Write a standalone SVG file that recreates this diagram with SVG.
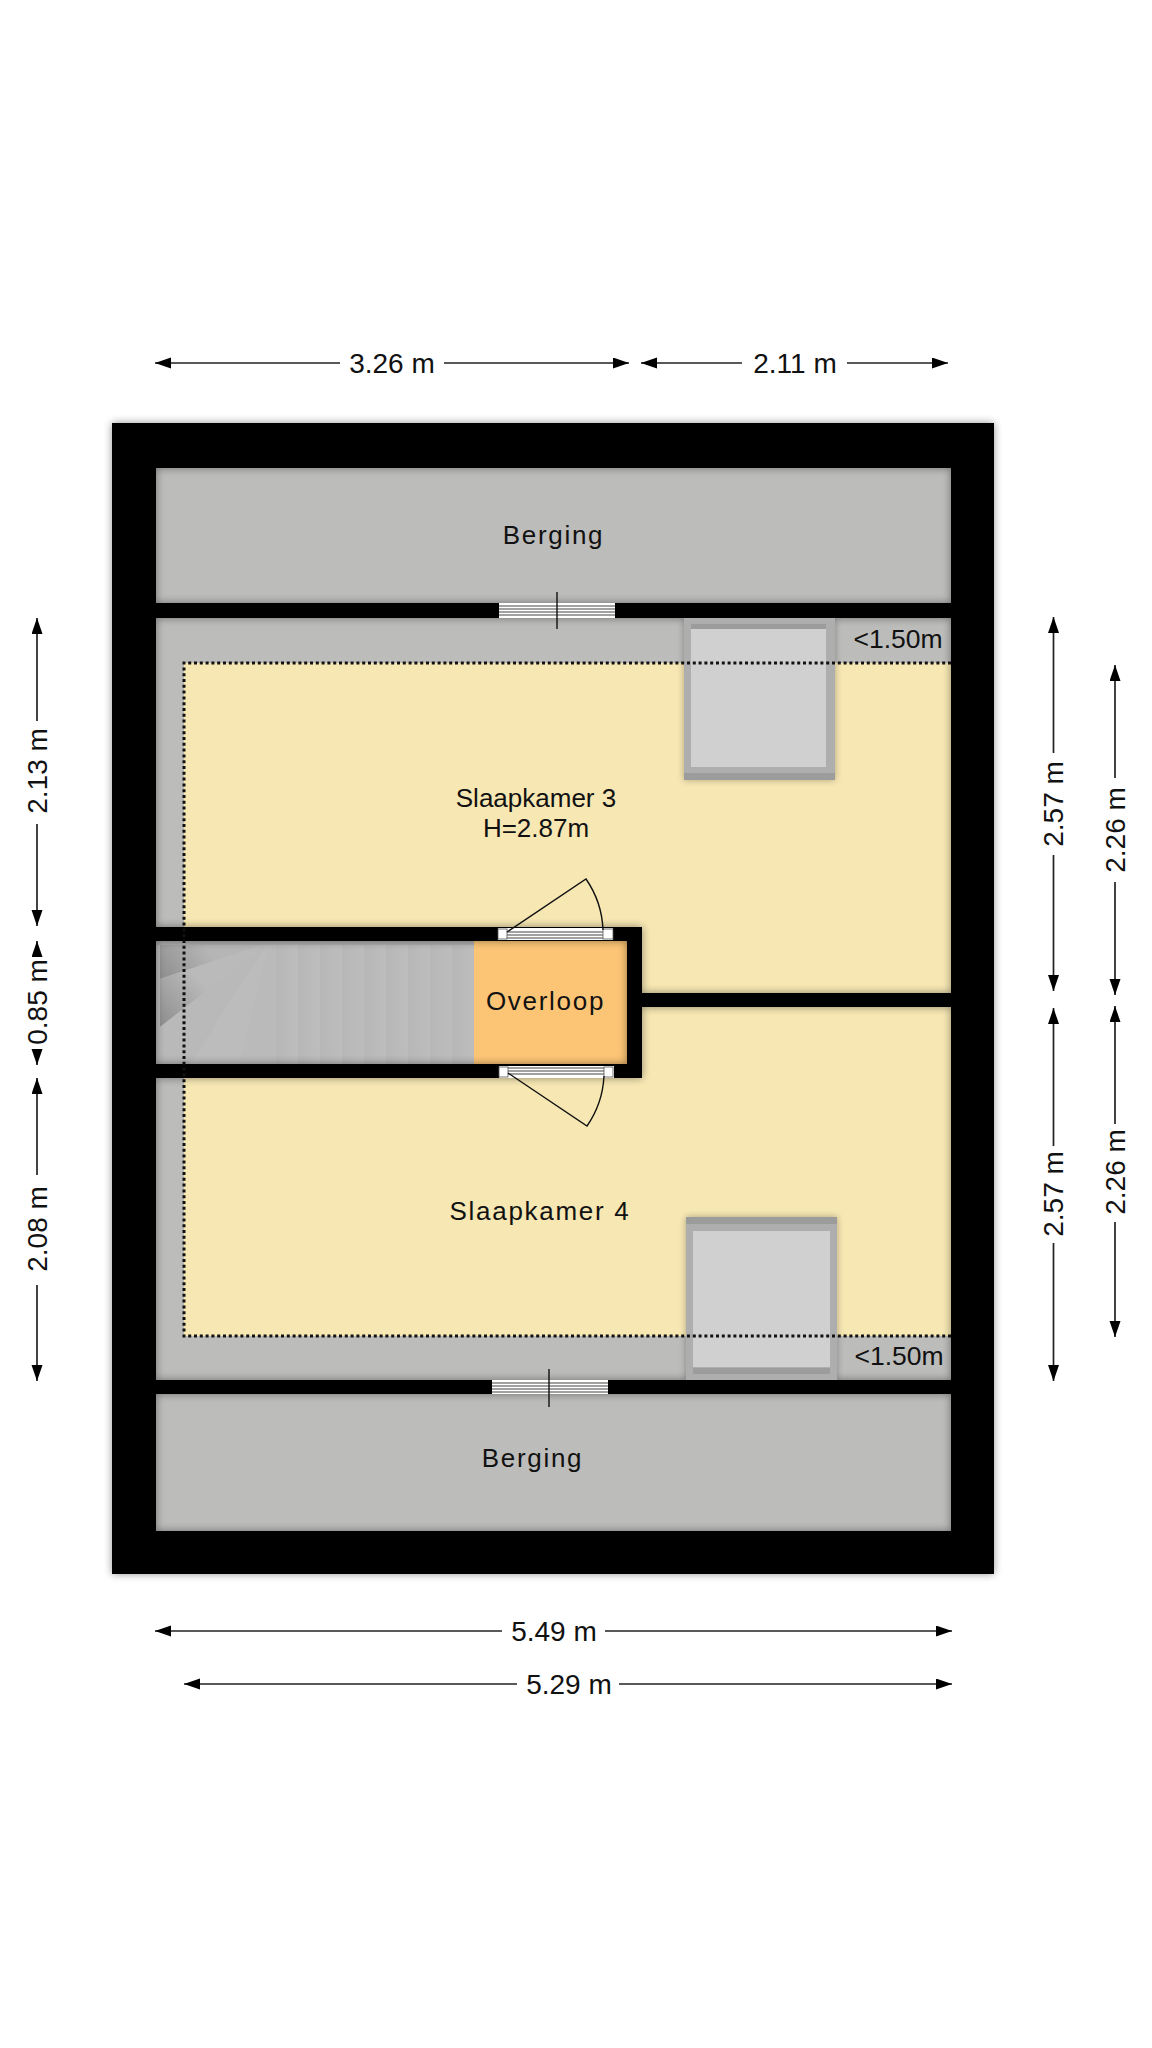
<svg xmlns="http://www.w3.org/2000/svg" width="1152" height="2048" viewBox="0 0 1152 2048">
<style>
text{font-family:"Liberation Sans",Arial,sans-serif;fill:#111}
.dim{font-size:28px;text-anchor:middle}
.room{font-size:26px;text-anchor:middle}
.low{font-size:26.500px;text-anchor:middle}
.sp{letter-spacing:1.7px}
.dl{stroke:#222;stroke-width:1.7;fill:none;marker-end:url(#ah)}
.gl{stroke:#444;stroke-width:1.2}
.dk{stroke:#111;stroke-width:1.4;fill:none}
.frame{fill:#aeaeae}
.pane{fill:#d0d0d0}
.strip{fill:#9c9c9c}
</style>
<defs>
<marker id="ah" markerUnits="userSpaceOnUse" markerWidth="18" markerHeight="12" refX="16" refY="5.5" orient="auto"><path d="M0 0L16 5.500L0 11L0 5.500Z" fill="#000"/></marker>
<filter id="blur" x="-5%" y="-5%" width="110%" height="110%"><feGaussianBlur stdDeviation="4"/></filter>
<filter id="blur2" x="-15%" y="-15%" width="130%" height="130%"><feGaussianBlur stdDeviation="3.500"/></filter>
<linearGradient id="tread" x1="0" y1="0" x2="1" y2="0"><stop offset="0" stop-color="#b7b7b7"/><stop offset="1" stop-color="#bdbdbd"/></linearGradient>
<pattern id="treads" patternUnits="userSpaceOnUse" x="276" y="0" width="22" height="10"><rect width="22" height="10" fill="url(#tread)"/></pattern>
<linearGradient id="w1" gradientUnits="userSpaceOnUse" x1="160" y1="979" x2="205" y2="945"><stop offset="0" stop-color="#8e8e8e"/><stop offset="1" stop-color="#b6b6b6"/></linearGradient>
<linearGradient id="w2" gradientUnits="userSpaceOnUse" x1="160" y1="1027" x2="205" y2="985"><stop offset="0" stop-color="#8e8e8e"/><stop offset="1" stop-color="#bababa"/></linearGradient>
<path id="wallshape" fill-rule="evenodd" d="M112 423H994V1574H112ZM156 468V603H951V468ZM156 618V927H642V993H951V618ZM156 941V1064H627V941ZM156 1078V1380H951V1007H642V1078ZM156 1394V1531H951V1394Z"/>
</defs>
<rect width="1152" height="2048" fill="#fff"/>

<g id="floors">
<rect id="berging-top-floor" x="156" y="468" width="795" height="135" fill="#bcbcba"/>
<rect id="attic-low" x="156" y="618" width="795" height="762" fill="#bcbcba"/>
<rect id="slaapkamer-3-floor" x="184" y="663" width="767" height="330" fill="#f6e7b3"/>
<rect id="slaapkamer-4-floor" x="184" y="1007" width="767" height="329" fill="#f6e7b3"/>
<rect id="berging-bottom-floor" x="156" y="1394" width="795" height="137" fill="#bcbcba"/>
</g>

<g id="stairs">
<rect x="156" y="941" width="318" height="123" fill="#bababa"/>
<rect x="276" y="941" width="198" height="123" fill="url(#treads)"/>
<path d="M160 979L268 943H160Z" fill="url(#w1)"/>
<path d="M160 979L268 943L160 1027Z" fill="url(#w2)"/>
<path d="M160 1027L268 943L190 1064H160Z" fill="#b9b9b9"/>
<path d="M190 1064L268 943L240 1064Z" fill="#bcbcbc"/>
<rect x="156" y="941" width="318" height="4" fill="#adadad"/>
</g>
<rect id="overloop-floor" x="474" y="941" width="153" height="123" fill="#fcc576"/>

<g id="wall-shadow"><use href="#wallshape" fill="#000" opacity=".42" filter="url(#blur)"/></g>

<g id="skylight-3">
<rect x="684" y="618" width="151" height="162" fill="#000" opacity=".3" filter="url(#blur2)"/>
<rect class="frame" x="684" y="617" width="151" height="163"/>
<rect class="pane" x="691" y="624" width="135" height="143"/>
<rect class="strip" x="691" y="624" width="135" height="5"/>
<rect class="strip" x="684" y="773" width="151" height="7"/>
</g>
<g id="skylight-4">
<rect x="686" y="1217" width="151" height="163" fill="#000" opacity=".3" filter="url(#blur2)"/>
<rect class="frame" x="686" y="1217" width="151" height="163"/>
<rect class="pane" x="693" y="1231" width="137" height="136"/>
<rect class="strip" x="686" y="1217" width="151" height="7"/>
<rect class="strip" x="693" y="1368" width="137" height="6"/>
</g>

<g id="walls"><use href="#wallshape" fill="#000"/><rect x="156" y="603" width="795" height="15"/><rect x="156" y="1380" width="795" height="14"/></g>

<g id="window-top">
<rect x="499" y="603" width="116" height="15" fill="#fff"/>
<path class="gl" d="M499 606H615M499 609H615M499 612H615M499 615H615"/>
<path class="dk" d="M557 592V629"/>
</g>
<g id="window-bottom">
<rect x="492" y="1380" width="116" height="14" fill="#fff"/>
<path class="gl" d="M492 1383H608M492 1386H608M492 1389H608M492 1392H608"/>
<path class="dk" d="M549 1369V1407"/>
</g>
<g id="door-top">
<rect x="498" y="928" width="115" height="12" fill="#fff"/>
<path class="gl" d="M507 932H603M507 935H603M507 938H603"/>
<rect x="498" y="929" width="9" height="10" fill="#fff" stroke="#555" stroke-width=".8"/>
<rect x="603" y="929" width="10" height="10" fill="#fff" stroke="#555" stroke-width=".8"/>
<path class="dk" d="M507 932L586 879A96 96 0 0 1 603 930"/>
</g>
<g id="door-bottom">
<rect x="499" y="1066" width="115" height="12" fill="#fff"/>
<path class="gl" d="M508 1068H604M508 1071H604M508 1074H604"/>
<rect x="499" y="1067" width="9" height="10" fill="#fff" stroke="#555" stroke-width=".8"/>
<rect x="604" y="1067" width="9" height="10" fill="#fff" stroke="#555" stroke-width=".8"/>
<path class="dk" d="M508 1073L587 1126A96 96 0 0 0 604 1076"/>
</g>

<g id="headroom-line"><path d="M951 663H184V1336H951" fill="none" stroke="#111" stroke-width="3" stroke-dasharray="3 2.800"/></g>

<g id="labels">
<text class="room sp" x="553.500" y="544">Berging</text>
<text class="room sp" x="532.500" y="1467">Berging</text>
<text class="room" x="536" y="807">Slaapkamer 3</text>
<text class="room" x="536" y="837">H=2.87m</text>
<text class="room sp" x="545.500" y="1010">Overloop</text>
<text class="room sp" x="540" y="1220">Slaapkamer 4</text>
<text class="low" x="898" y="648">&lt;1.50m</text>
<text class="low" x="899" y="1365">&lt;1.50m</text>
</g>

<g id="dimensions">
<path class="dl" d="M340 363H155"/><path class="dl" d="M444 363H629"/>
<text class="dim" x="392" y="373">3.26 m</text>
<path class="dl" d="M742 363H641"/><path class="dl" d="M847 363H948"/>
<text class="dim" x="795" y="373">2.11 m</text>

<path class="dl" d="M37 721V618"/><path class="dl" d="M37 824V926"/>
<text class="dim" transform="translate(47 771) rotate(-90)">2.13 m</text>
<path class="dl" d="M37 952V941"/><path class="dl" d="M37 1052V1065"/>
<text class="dim" transform="translate(47 1002) rotate(-90)">0.85 m</text>
<path class="dl" d="M37 1175V1078"/><path class="dl" d="M37 1285V1381"/>
<text class="dim" transform="translate(47 1229) rotate(-90)">2.08 m</text>

<path class="dl" d="M1053.500 753V617"/><path class="dl" d="M1053.500 855V991"/>
<text class="dim" transform="translate(1063 804) rotate(-90)">2.57 m</text>
<path class="dl" d="M1053.500 1146V1008"/><path class="dl" d="M1053.500 1243V1381"/>
<text class="dim" transform="translate(1063 1194) rotate(-90)">2.57 m</text>
<path class="dl" d="M1115 778V665"/><path class="dl" d="M1115 882V995"/>
<text class="dim" transform="translate(1125 830) rotate(-90)">2.26 m</text>
<path class="dl" d="M1115 1124V1006"/><path class="dl" d="M1115 1222V1337"/>
<text class="dim" transform="translate(1125 1172) rotate(-90)">2.26 m</text>

<path class="dl" d="M502 1631H155"/><path class="dl" d="M605 1631H952"/>
<text class="dim" x="554" y="1641">5.49 m</text>
<path class="dl" d="M517 1684H184"/><path class="dl" d="M619 1684H952"/>
<text class="dim" x="569" y="1694">5.29 m</text>
</g>
</svg>
